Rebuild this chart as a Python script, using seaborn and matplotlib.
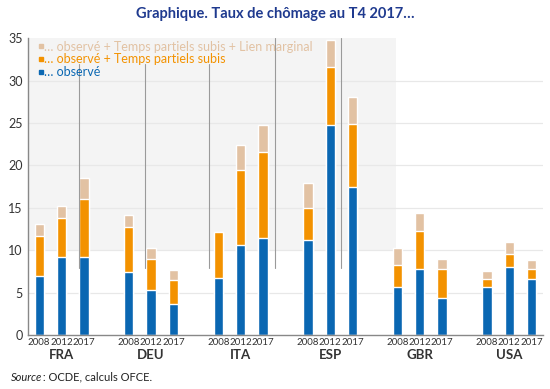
import pandas as pd
import matplotlib.pyplot as plt
import seaborn as sns
from matplotlib.lines import Line2D

countries = ["FRA", "DEU", "ITA", "ESP", "GBR", "USA"]
years = ["2008", "2012", "2017"]

# one value per country x year, in country order
observe = [6.9, 9.2, 9.2, 7.4, 5.3, 3.6, 6.7, 10.6, 11.4,
           11.2, 24.7, 17.4, 5.6, 7.8, 4.3, 5.7, 8.0, 6.6]
partiels = [11.7, 13.8, 16.0, 12.7, 9.0, 6.5, 12.1, 19.4, 21.6,
            15.0, 31.6, 24.9, 8.2, 12.2, 7.8, 6.6, 9.6, 7.8]
marginal = [13.1, 15.2, 18.5, 14.2, 10.3, 7.7, 12.1, 22.4, 24.8,
            17.9, 34.8, 28.0, 10.2, 14.4, 8.9, 7.5, 11.0, 8.8]

c_blue = "#0a67b2"
c_orange = "#f39200"
c_beige = "#e2c2a3"

rows = []
for i, c in enumerate(countries):
    for j, y in enumerate(years):
        k = i * 3 + j
        rows.append({"pays": c, "annee": y, "pos": i * 4 + j,
                     "obs": observe[k], "tps": partiels[k], "lien": marginal[k]})
df = pd.DataFrame(rows)

sns.set_style("white")
plt.rcParams["font.family"] = ["Lato", "DejaVu Sans"]

fig = plt.figure(figsize=(5.5, 3.89), dpi=100)
ax = fig.add_axes([0.051, 0.139, 0.936, 0.763])

# shaded zone and stray vertical rules seen in the original
ax.add_patch(plt.Rectangle((-0.5, 10), 16.45, 25, color="#f4f4f4", zorder=0, lw=0))
for xv, top in zip([1.78, 4.73, 7.58, 10.52, 13.46], [32, 32, 32, 35, 35]):
    ax.plot([xv, xv], [7.9, top], color="#9a9a9a", lw=0.8, zorder=3)

for yv in range(5, 35, 5):
    ax.axhline(yv, color="#e8e8e8", lw=0.9, zorder=0.5)

for col, color in [("lien", c_beige), ("tps", c_orange), ("obs", c_blue)]:
    sns.barplot(data=df, x="pos", y=col, native_scale=True, width=0.42,
                color=color, saturation=1, ax=ax, zorder=2)

ax.set_xlim(-0.5, 22.5)
ax.set_ylim(0, 35)
ax.set_yticks(range(0, 36, 5))
ax.set_xticks(df["pos"])
ax.set_xticklabels(df["annee"], fontsize=7, color="#333333")
ax.set_xticks([p + 0.5 for p in df["pos"] if p % 4 != 2], minor=True)
ax.tick_params(axis="x", which="major", length=0, pad=2)
ax.tick_params(axis="x", which="minor", length=3, color="#888888", direction="in")
ax.tick_params(axis="y", length=0, labelsize=9, labelcolor="#333333", pad=4)
ax.set_xlabel("")
ax.set_ylabel("")

for i, c in enumerate(countries):
    ax.text(i * 4 + 1, -2.4, c, ha="center", va="center", fontsize=9.5,
            fontweight="bold", color="#333333")

for s in ["top", "right"]:
    ax.spines[s].set_visible(False)
for s in ["left", "bottom"]:
    ax.spines[s].set_color("#888888")
    ax.spines[s].set_linewidth(1)

labels = ["… observé + Temps partiels subis + Lien marginal",
          "… observé + Temps partiels subis",
          "… observé"]
colors = [c_beige, c_orange, c_blue]
handles = [Line2D([], [], marker="s", ls="", markersize=3, color=cl) for cl in colors]
ax.legend(handles, labels, loc="upper left", bbox_to_anchor=(0.0, 1.025), frameon=False,
          fontsize=9, labelcolor=colors, handlelength=0.4, handletextpad=0.1,
          labelspacing=0.05, borderaxespad=0.4)

fig.text(0.5, 0.965, "Graphique. Taux de chômage au T4 2017…", ha="center", va="center",
         fontsize=10.5, fontweight="bold", color="#1f3a8f")
fig.text(0.02, 0.03, "Source", fontsize=8, style="italic", color="#222222", va="center")
fig.text(0.072, 0.03, " : OCDE, calculs OFCE.", fontsize=8, color="#222222", va="center")

fig.savefig("out.png", dpi=100)
